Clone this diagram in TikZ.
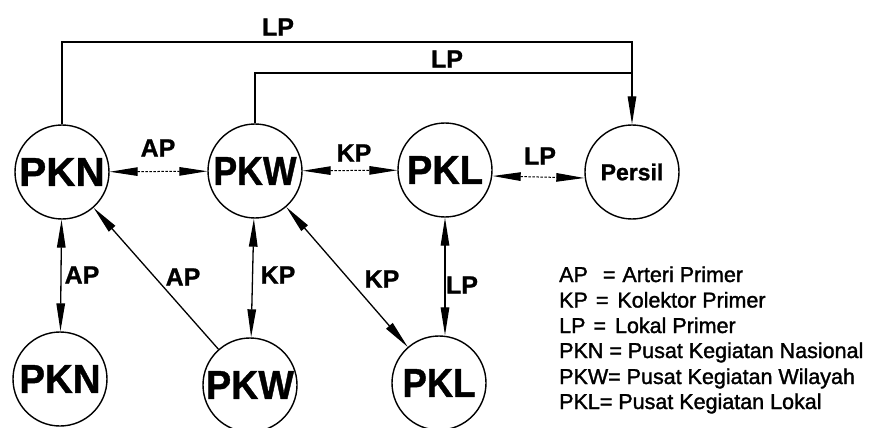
\documentclass[tikz,border=0pt]{standalone}
\usepackage{fontspec}
\setmainfont{Liberation Sans}
\newfontfamily\legfont[FakeBold=1.5]{Liberation Sans}
\newfontfamily\heavyfont[FakeBold=1]{Liberation Sans Bold}
\usetikzlibrary{arrows.meta}
\begin{document}
\begin{tikzpicture}[x=1pt,y=-1pt,
  place/.style={circle, draw, line width=1.4pt, minimum size=94pt, inner sep=0pt,
    font=\heavyfont\fontsize{40.5}{40}\selectfont},
  smallplace/.style={place, font=\heavyfont\fontsize{23}{23}\selectfont},
  conn/.style={line width=1.3pt},
  hconn/.style={line width=1pt, dash pattern=on 2.5pt off 1.5pt},
  tip/.tip={Triangle[length=28pt,width=8.5pt]},
  lab/.style={font=\heavyfont\fontsize{25}{25}\selectfont, inner sep=0pt},
  leg/.style={anchor=base west, inner sep=0pt, font=\legfont\fontsize{21.5}{25}\selectfont}]
\useasboundingbox (0,0) rectangle (879,428);

% nodes
\node[place] (PKNt) at (62,172) {PKN};
\node[place] (PKWt) at (255,171) {\scalebox{0.88}[1]{PKW}};
\node[place] (PKLt) at (445,170) {\scalebox{0.94}[1]{PKL}};
\node[smallplace] (Persil) at (632,172) {Persil};
\node[place] (PKNb) at (60,379) {\scalebox{0.95}[1]{PKN}};
\node[place] (PKWb) at (250,385) {\scalebox{0.93}[1]{PKW}};
\node[place] (PKLb) at (439,383) {\scalebox{0.9}[1]{PKL}};

\coordinate (top1) at (0,42);
\coordinate (top2) at (0,73);

% connectors
\draw[conn,-tip] (PKNt.north) |- (Persil.north |- top1) -- (Persil.north);
\draw[conn] (PKWt.north) |- (Persil.north |- top2);

\draw[hconn,tip-tip] (PKNt) -- (PKWt);
\draw[hconn,tip-tip] (PKWt) -- (PKLt);
\draw[hconn,tip-tip] ([yshift=-6pt]PKLt.east) -- ([yshift=-6pt]Persil.west);

\draw[conn,tip-tip] (PKNt) -- (PKNb);
\draw[conn,tip-tip] (PKWt) -- (PKWb);
\draw[conn,tip-tip] (PKLt.south) -- (PKLt.south |- PKLb.north);
\draw[conn,-tip] (PKWb) -- (PKNt);
\draw[conn,tip-tip] (PKWt) -- (PKLb);

% labels
\node[lab] (l1) at (278,27) {LP};
\node[lab] (l2) at (447,59) {LP};
\node[lab] (l3) at (158,148) {AP};
\node[lab] (l4) at (354,153) {KP};
\node[lab] (l5) at (540,156) {LP};
\node[lab] (l6) at (82,275) {AP};
\node[lab] (l7) at (183,277) {AP};
\node[lab] (l8) at (278,275) {KP};
\node[lab] (l9) at (382,279) {KP};
\node[lab] (l10) at (462,285) {LP};

% legend
\node[leg] (g1) at (559,282) {AP\hspace{15pt}=\hspace{7pt}Arteri Primer};
\node[leg] (g2) at (559,307.5) {KP\hspace{8pt}=\hspace{9pt}Kolektor Primer};
\node[leg] (g3) at (559,333) {LP\hspace{8pt}=\hspace{9pt}Lokal Primer};
\node[leg] (g4) at (559,358) {PKN = Pusat Kegiatan Nasional};
\node[leg] (g5) at (559,384) {PKW= Pusat Kegiatan Wilayah};
\node[leg] (g6) at (559,409) {PKL= Pusat Kegiatan Lokal};
\end{tikzpicture}
\end{document}
